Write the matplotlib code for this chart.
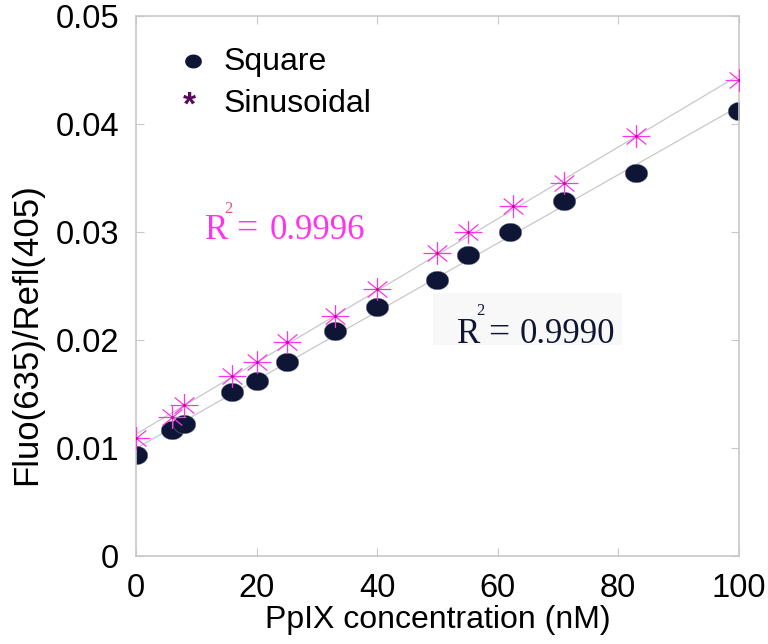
import numpy as np
import matplotlib.pyplot as plt
from matplotlib.path import Path

# PpIX concentration (nM)
conc_square = [0, 6, 8, 16, 20, 25, 33, 40, 50, 55, 62, 71, 83, 100]
ratio_square = [0.0094, 0.0117, 0.0122, 0.0152, 0.0162, 0.0180, 0.0208,
                0.0231, 0.0256, 0.0279, 0.0300, 0.0329, 0.0355, 0.0412]

conc_sin = [0, 6, 8, 16, 20, 25, 33, 40, 50, 55, 62.5, 71, 83, 100]
ratio_sin = [0.0109, 0.0129, 0.0140, 0.0167, 0.0180, 0.0198, 0.0222,
             0.0247, 0.0281, 0.0300, 0.0324, 0.0345, 0.0389, 0.0441]

xticks = [0, 20, 40, 60, 80, 100]
yticks = [0, 0.01, 0.02, 0.03, 0.04, 0.05]
ytick_labels = ['0', '0.01', '0.02', '0.03', '0.04', '0.05']

NAVY = '#0f1535'
MAGENTA = '#ff33ee'
GRAY = '#c8c8c8'

plt.rcParams['font.family'] = ['Liberation Sans', 'DejaVu Sans']

# squashed circle and squashed 8-arm asterisk, like the original markers
t = np.linspace(0, 2 * np.pi, 49)
ellipse = Path(np.column_stack([np.cos(t), 0.82 * np.sin(t)]), closed=True)
verts, codes = [], []
for a in np.deg2rad([0, 45, 90, 135]):
    dx, dy = np.cos(a), 0.82 * np.sin(a)
    verts += [(-dx, -dy), (dx, dy)]
    codes += [Path.MOVETO, Path.LINETO]
aster = Path(verts, codes)

fig = plt.figure(figsize=(7.68, 6.44), dpi=100)
ax = fig.add_axes([0.177, 0.1366, 0.785, 0.8385])

# linear fits
xs = np.array([0, 100])
for cx, cy in ((conc_square, ratio_square), (conc_sin, ratio_sin)):
    p = np.polyfit(cx, cy, 1)
    ax.plot(xs, np.polyval(p, xs), color=GRAY, lw=0.9, zorder=1)

ax.plot(conc_square, ratio_square, ls='none', marker=ellipse, ms=16.3,
        mfc=NAVY, mec='#8890a8', mew=0.3, zorder=2)
ax.plot(conc_sin, ratio_sin, ls='none', marker=aster, ms=20,
        mec=MAGENTA, mew=0.9, zorder=3)
ax.plot(conc_sin, ratio_sin, ls='none', marker='o', ms=2.2,
        mfc='#c0108a', mew=0, zorder=3)

ax.set_xlim(0, 100)
ax.set_ylim(0, 0.05)
ax.set_xticks(xticks)
ax.set_xticklabels([str(v) for v in xticks])
ax.set_yticks(yticks)
ax.set_yticklabels(ytick_labels)
ax.tick_params(direction='in', length=6, color=GRAY, labelsize=23.5,
               right=True, top=True, pad=12)
for s in ax.spines.values():
    s.set_color(GRAY)
    s.set_linewidth(1.2)

ax.set_xlabel('PpIX concentration (nM)', fontsize=23, labelpad=1)
fig.text(27 / 768, 1 - 334 / 644, 'Fluo(635)/Refl(405)', fontsize=25,
         rotation=90, ha='center', va='center')

# legend made by hand, no frame
ax.plot([9.5], [0.0458], ls='none', marker=ellipse, ms=11, mfc=NAVY, mec=NAVY)
ax.text(14.6, 0.0457, 'Square', fontsize=23, va='center')
ax.text(8.9, 0.0417, '*', fontsize=24, color='#5a0a5a', ha='center',
        va='center', fontweight='bold')
ax.text(14.6, 0.0419, 'Sinusoidal', fontsize=23, va='center')

serif = ['Liberation Serif', 'DejaVu Serif']
ax.text(11.4, 0.02935, 'R', color=MAGENTA, fontsize=25, family=serif,
        va='baseline')
ax.text(15.4, 0.0321, '2', color='#e0508a', fontsize=12, family=serif,
        ha='center', va='center')
ax.text(16.6, 0.02935, '=', color=MAGENTA, fontsize=27, family=serif,
        va='baseline')
ax.text(22.2, 0.02935, '0.9996', color=MAGENTA, fontsize=25, family=serif,
        va='baseline')

ax.add_patch(plt.Rectangle((49.3, 0.01954), 31.3, 0.0048, color='#f8f8f8',
                           lw=0, zorder=0.5))
ax.text(53.2, 0.01972, 'R', color=NAVY, fontsize=25, family=serif,
        va='baseline')
ax.text(57.1, 0.0227, '2', color=NAVY, fontsize=12, family=serif,
        ha='center', va='center')
ax.text(58.4, 0.01972, '=', color=NAVY, fontsize=27, family=serif,
        va='baseline')
ax.text(63.7, 0.01972, '0.9990', color=NAVY, fontsize=25, family=serif,
        va='baseline')

fig.savefig('out.png', dpi=100)
